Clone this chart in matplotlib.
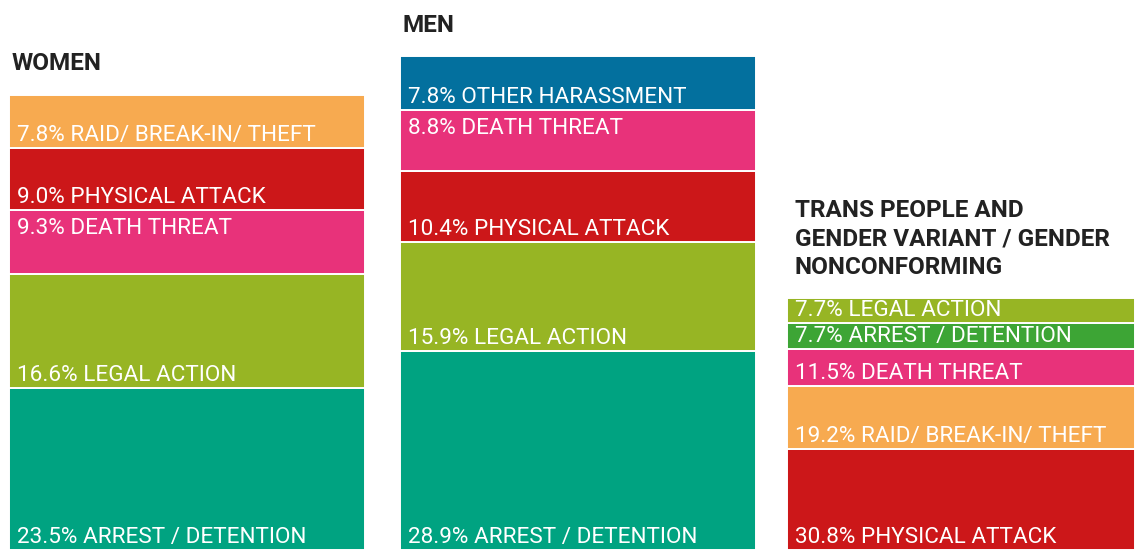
import matplotlib.pyplot as plt

plt.rcParams['font.family'] = ['Roboto', 'DejaVu Sans']

# Share of attacks per group, stacked from the bottom
women_labels = ["ARREST / DETENTION", "LEGAL ACTION", "DEATH THREAT",
                "PHYSICAL ATTACK", "RAID / BREAK-IN / THEFT"]
women_values = [23.5, 16.6, 9.3, 9.0, 7.8]

men_labels = ["ARREST / DETENTION", "LEGAL ACTION", "PHYSICAL ATTACK",
              "DEATH THREAT", "OTHER HARASSMENT"]
men_values = [28.9, 15.9, 10.4, 8.8, 7.8]

trans_labels = ["PHYSICAL ATTACK", "RAID / BREAK-IN / THEFT", "DEATH THREAT",
                "ARREST / DETENTION", "LEGAL ACTION"]
trans_values = [30.8, 19.2, 11.5, 7.7, 7.7]

group_titles = ["WOMEN", "MEN",
                "TRANS PEOPLE AND\nGENDER VARIANT / GENDER\nNONCONFORMING"]

colors = {
    "ARREST / DETENTION": "#00A381",
    "LEGAL ACTION": "#97B524",
    "DEATH THREAT": "#E8327A",
    "PHYSICAL ATTACK": "#CC1719",
    "RAID / BREAK-IN / THEFT": "#F7AA50",
    "OTHER HARASSMENT": "#03709E",
}
# trans group uses a different green for arrests
trans_arrest_color = "#3DA535"

W, H = 1135, 550
fig = plt.figure(figsize=(W / 100, H / 100), dpi=100)

# column placement in pixels: left, width, y-limit (scale), title x, title y
layout = [
    (9, 356, 80, 12, 64),
    (400, 356, 80, 403, 25),
    (787, 348, 168, 795, 239),
]
# labels anchored to the top of their segment instead of the bottom
top_anchored = [{"DEATH THREAT"}, {"DEATH THREAT"}, set()]

groups = [(women_labels, women_values), (men_labels, men_values),
          (trans_labels, trans_values)]

for gi, ((labels, values), (left, width, ymax, tx, ty)) in enumerate(zip(groups, layout)):
    ax = fig.add_axes([left / W, 0, width / W, 1])
    ax.set_xlim(0, 1)
    ax.set_ylim(0, ymax)
    ax.axis("off")
    bottom = 0
    for lab, val in zip(labels, values):
        c = colors[lab]
        if gi == 2 and lab == "ARREST / DETENTION":
            c = trans_arrest_color
        ax.bar(0, val, width=1, bottom=bottom, align="edge", color=c,
               edgecolor="white", linewidth=1.4)
        text = f"{val:.1f}% " + lab.replace("RAID / BREAK-IN / ", "RAID/ BREAK-IN/ ")
        if lab in top_anchored[gi]:
            ax.annotate(text, xy=(0, bottom + val), xytext=(8, -8),
                        textcoords="offset pixels", va="top", ha="left",
                        color="white", fontsize=16.2)
        else:
            ax.annotate(text, xy=(0, bottom), xytext=(8, 7),
                        textcoords="offset pixels", va="baseline", ha="left",
                        color="white", fontsize=16.2)
        bottom += val

    fig.text(tx / W, 1 - ty / H, group_titles[gi], ha="left", va="center",
             fontsize=17.5, fontweight="bold", color="#222222", linespacing=1.32)

fig.savefig("out.png", dpi=100)
